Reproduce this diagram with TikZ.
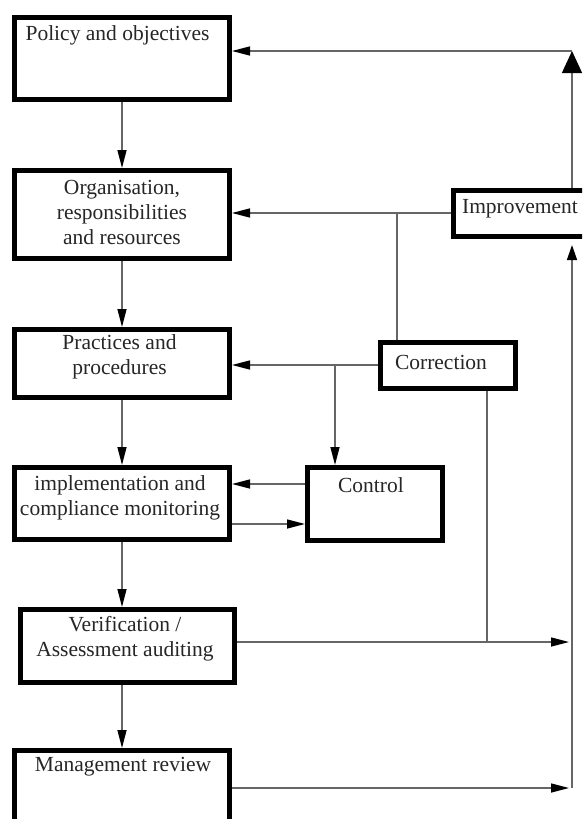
\documentclass[tikz,border=0pt]{standalone}
\usepackage{fontspec}
\setmainfont{Liberation Serif}
\usetikzlibrary{arrows.meta}
\begin{document}
\begin{tikzpicture}[x=1pt,y=-1pt,
  boxnode/.style={draw=black,line width=5pt,inner sep=0pt},
  lbl/.style={font=\fontsize{21.5}{25}\selectfont,align=center,inner sep=0pt,text=black!85},
  con/.style={draw=black!60,line width=1.4pt},
  arr/.style={con,-{Triangle[length=18pt,width=9pt,color=black]}},
  smallarr/.style={con,-{Triangle[length=15pt,width=10pt,color=black]}},
  bigarr/.style={con,-{Triangle[length=22pt,width=20pt,color=black]}}]
\useasboundingbox (0,0) rectangle (582,819);
\clip (0,0) rectangle (582,819);
\fill[white] (0,0) rectangle (582,819);
% boxes
\node[boxnode,minimum width=215pt,minimum height=82pt] (pol) at (122,58.5) {};
\node[boxnode,minimum width=215pt,minimum height=88pt] (org) at (122,214.5) {};
\node[boxnode,minimum width=215pt,minimum height=68pt] (prac) at (122,363.5) {};
\node[boxnode,minimum width=215pt,minimum height=72pt] (impl) at (122,503.5) {};
\node[boxnode,minimum width=214pt,minimum height=73pt] (ver) at (127.5,646) {};
\node[boxnode,minimum width=215pt,minimum height=77pt] (man) at (122,789) {};
\node[boxnode,minimum width=144pt,minimum height=46pt] (imp) at (525.5,213.5) {};
\node[boxnode,minimum width=135pt,minimum height=46pt] (cor) at (448,365.5) {};
\node[boxnode,minimum width=135pt,minimum height=73pt] (ctl) at (375,504) {};
% texts
\node[lbl] (polt) at (117.5,35) {Policy and objectives};
\node[lbl] (orgt) at (122,212.5) {Organisation,\\responsibilities\\and resources};
\node[lbl] (pract) at (119.5,357) {Practices and\\procedures};
\node[lbl] (implt) at (120,497.5) {implementation and\\compliance monitoring};
\node[lbl] (vert) at (125,638.5) {Verification /\\Assessment auditing};
\node[lbl] (mant) at (123,767) {Management review};
\node[lbl] (impt) at (520,209) {Improvement};
\node[lbl] (cort) at (441,362) {Correction};
\node[lbl] (ctlt) at (371,485) {Control};
% helper coordinates
\coordinate (rtop) at (572,51);
\coordinate (rbot) at (572,788);
\coordinate (b1) at (397,213);
\coordinate (b2) at (335,365);
\coordinate (cd) at (487,642);
\coordinate (yA) at (0,484);
\coordinate (yB) at (0,524);
% main chain
\draw[arr] (pol.south) -- (org.north);
\draw[arr] (org.south) -- (prac.north);
\draw[arr] (prac.south) -- (impl.north);
\draw[arr] (impl.south) -- (impl.south |- ver.north);
\draw[arr] (impl.south |- ver.south) -- (man.north);
% feedback
\draw[arr] (imp.west |- b1) -- (org.east |- b1);
\draw[con] (b1) -- (b1 |- cor.north);
\draw[arr] (cor.west |- b2) -- (prac.east |- b2);
\draw[arr] (b2) -- (b2 |- ctl.north);
\draw[arr] (ctl.west |- yA) -- (impl.east |- yA);
\draw[arr] (impl.east |- yB) -- (ctl.west |- yB);
\draw[con] (cd |- cor.south) -- (cd);
\draw[arr,shorten >=3pt] (ver.east |- cd) -- (rtop |- cd);
\draw[arr,shorten >=3pt] (man.east |- rbot) -- (rbot);
\draw[smallarr,shorten >=6pt] (rbot) -- (rbot |- imp.south);
\draw[bigarr] (rtop |- imp.north) -- (rtop);
\draw[arr] (rtop) -- (pol.east |- rtop);
\end{tikzpicture}
\end{document}
